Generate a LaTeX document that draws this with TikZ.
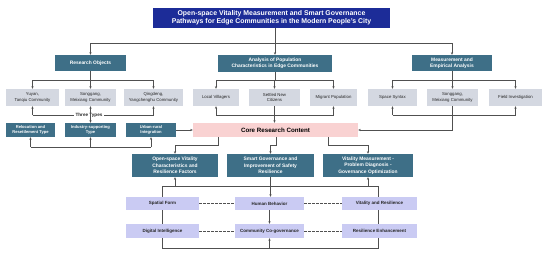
\documentclass[tikz,border=0pt]{standalone}
\usepackage{fontspec}
\setmainfont{Liberation Sans}
\usetikzlibrary{arrows.meta,backgrounds}
\definecolor{titleblue}{RGB}{28,44,152}
\definecolor{tealbox}{RGB}{62,111,135}
\definecolor{greybox}{RGB}{212,216,225}
\definecolor{pinkbox}{RGB}{249,210,210}
\definecolor{lavbox}{RGB}{202,203,243}
\definecolor{lncol}{RGB}{80,80,80}
\tikzset{
  bx/.style={inner sep=0pt, align=center, draw=none},
  titlebox/.style={bx, fill=titleblue, text=white, font=\fontsize{6.9}{8.1}\selectfont\bfseries},
  tealbig/.style={bx, fill=tealbox, text=white, font=\fontsize{4.9}{6.3}\selectfont\bfseries},
  tealsmall/.style={bx, fill=tealbox, text=white, font=\fontsize{4.1}{5.2}\selectfont\bfseries},
  greyb/.style={bx, fill=greybox, text=black!85, font=\fontsize{4.3}{5.5}\selectfont},
  coreb/.style={bx, fill=pinkbox, text=black, font=\fontsize{6.2}{7}\selectfont\bfseries},
  lavb/.style={bx, fill=lavbox, text=black!85, font=\fontsize{4.5}{5.5}\selectfont\bfseries},
  ln/.style={draw=lncol, line width=0.6pt},
  arr/.style={ln, -{Stealth[length=2.6pt,width=2.2pt]}},
  dsh/.style={ln, dash pattern=on 2.6pt off 1.4pt},
  sz/.style 2 args={minimum width=#1pt, minimum height=#2pt}
}
\begin{document}
\begin{tikzpicture}[x=1pt,y=-1pt]
\useasboundingbox (0,0) rectangle (550,255);
% level coordinates
\coordinate (yA) at (0,43);
\coordinate (yB) at (0,80);
\coordinate (yC) at (0,115);
\coordinate (yD) at (0,147);
\coordinate (yE) at (0,145);
\coordinate (yF) at (0,186);
\coordinate (yG) at (0,248);
% nodes
\node[titlebox, sz={237}{20}] (title) at (271.5,18) {Open-space Vitality Measurement and Smart Governance\\Pathways for Edge Communities in the Modern People’s City};
\node[tealbig, sz={71}{16}] (RO) at (90.5,63) {Research Objects};
\node[tealbig, sz={114}{17}] (AN) at (275,63.5) {Analysis of Population\\Characteristics in Edge Communities};
\node[tealbig, sz={80}{16}] (ME) at (452,63) {Measurement and\\Empirical Analysis};
\node[greyb, sz={53}{17}] (Yu) at (32.5,97.5) {Yuyan,\\Tanqiu Community};
\node[greyb, sz={51}{17}] (S1) at (90.5,97.5) {Songgang,\\Meixiang Community};
\node[greyb, sz={59}{17}] (Qi) at (153.5,97.5) {Qingdeng,\\Yangchenghu Community};
\node[greyb, sz={46}{17}] (Lo) at (216,97.5) {Local Villagers};
\node[greyb, sz={51}{17}] (Se) at (274.5,97.5) {Settled New\\Citizens};
\node[greyb, sz={47}{17}] (Mi) at (333.5,97.5) {Migrant Population};
\node[greyb, sz={49}{17}] (Sp) at (392.5,97.5) {Space Syntax};
\node[greyb, sz={51}{17}] (S2) at (452.5,97.5) {Songgang,\\Meixiang Community};
\node[greyb, sz={53}{17}] (Fi) at (515.5,97.5) {Field Investigation};
\node[tealsmall, sz={49}{14}] (Re) at (30.5,130) {Relocation and\\Resettlement Type};
\node[tealsmall, sz={51}{14}] (In) at (90.5,130) {Industry-supporting\\Type};
\node[tealsmall, sz={50}{14}] (Ur) at (151,130) {Urban-rural\\Integration};
\node[coreb, sz={165}{14}] (Core) at (275.5,130) {Core Research Content};
\node[tealbig, sz={86}{23}] (OS) at (175,165.5) {Open-space Vitality\\Characteristics and\\Resilience Factors};
\node[tealbig, sz={87}{23}] (SG) at (270.5,165.5) {Smart Governance and\\Improvement of Safety\\Resilience};
\node[tealbig, sz={90}{23}] (VM) at (368,165.5) {Vitality Measurement -\\Problem Diagnosis -\\Governance Optimization};
\node[lavb, sz={73}{13}] (SF) at (162.5,203.5) {Spatial Form};
\node[lavb, sz={69}{13}] (HB) at (269.5,203.5) {Human Behavior};
\node[lavb, sz={75}{13}] (VR) at (379.5,203.5) {Vitality and Resilience};
\node[lavb, sz={73}{14}] (DI) at (162.5,231) {Digital Intelligence};
\node[lavb, sz={69}{14}] (CC) at (269.5,231) {Community Co-governance};
\node[lavb, sz={75}{14}] (RE) at (379.5,231) {Resilience Enhancement};
\begin{scope}[on background layer]
% title to level 1
\draw[ln] (title.south -| AN.north) -- (AN.north |- yA);
\draw[ln] (RO.north |- yA) -- (ME.north |- yA);
\draw[arr] (RO.north |- yA) -- (RO.north);
\draw[arr] (AN.north |- yA) -- (AN.north);
\draw[arr] (ME.north |- yA) -- (ME.north);
% research objects
\draw[ln] (RO.south) -- (RO.south |- yB);
\draw[ln] (Yu.north |- yB) -- (Qi.north |- yB);
\draw[arr] (Yu.north |- yB) -- (Yu.north);
\draw[arr] (S1.north |- yB) -- (S1.north);
\draw[arr] (Qi.north |- yB) -- (Qi.north);
\draw[ln] (Yu.south |- yC) -- (Qi.south |- yC);
\draw[arr] (Yu.south |- yC) -- (Yu.south);
\draw[arr] (Qi.south |- yC) -- (Qi.south);
\end{scope}
\node[fill=white, inner xsep=1.5pt, inner ysep=0.5pt, font=\fontsize{4.6}{5}\selectfont\bfseries, text=black!85] (TT) at (89,115) {Three Types};
\draw[arr] (S1.south |- yC) -- (S1.south);
\draw[arr] (S1.south |- yC) -- (In.north);
\begin{scope}[on background layer]
\draw[ln] (Re.south |- yD) -- (Ur.south |- yD);
\draw[arr] (Re.south |- yD) -- (Re.south);
\draw[arr] (In.south |- yD) -- (In.south);
\draw[arr] (Ur.south |- yD) -- (Ur.south);
\draw[arr] (Ur.east) -- (Core.west);
% analysis
\draw[ln] (AN.south) -- (AN.south |- yB);
\draw[ln] (Lo.north |- yB) -- (Mi.north |- yB);
\draw[arr] (Lo.north |- yB) -- (Lo.north);
\draw[arr] (Se.north |- yB) -- (Se.north);
\draw[arr] (Mi.north |- yB) -- (Mi.north);
\draw[ln] (Lo.south |- yC) -- (Mi.south |- yC);
\draw[arr] (Lo.south |- yC) -- (Lo.south);
\draw[arr] (Mi.south |- yC) -- (Mi.south);
\draw[arr] (Se.south) -- (Se.south |- Core.north);
% measurement
\draw[ln] (ME.south) -- (ME.south |- yB);
\draw[ln] (Sp.north |- yB) -- (Fi.north |- yB);
\draw[arr] (Sp.north |- yB) -- (Sp.north);
\draw[arr] (S2.north |- yB) -- (S2.north);
\draw[arr] (Fi.north |- yB) -- (Fi.north);
\draw[ln] (Sp.south |- yC) -- (Fi.south |- yC);
\draw[arr] (Sp.south |- yC) -- (Sp.south);
\draw[arr] (Fi.south |- yC) -- (Fi.south);
\draw[arr] (S2.south) |- (Core.east);
% core to middle row
\draw[arr] ([xshift=-57.5pt]Core.south) -- ([xshift=-57.5pt]Core.south |- yE) -- (OS.north |- yE) -- (OS.north);
\draw[arr] ([xshift=0.5pt]Core.south) -- ([xshift=0.5pt]Core.south |- yE) -- (SG.north |- yE) -- (SG.north);
\draw[arr] ([xshift=52.5pt]Core.south) -- ([xshift=52.5pt]Core.south |- yE) -- (VM.north |- yE) -- (VM.north);
% bottom frame
\draw[ln] (SF.center |- yF) rectangle ([xshift=-1.5pt]VR.center |- yG);
\draw[arr] (OS.south |- yF) -- (OS.south);
\draw[arr] (VM.south |- yF) -- (VM.south);
\draw[arr] (SG.south) -- (SG.south |- HB.north);
\draw[arr] (HB.south) -- (CC.north);
\draw[arr] (CC.south |- yG) -- (CC.south);
\draw[dsh] (SF.east) -- (HB.west);
\draw[dsh] (HB.east) -- (VR.west);
\draw[dsh] (DI.east) -- (CC.west);
\draw[dsh] (CC.east) -- (RE.west);
\end{scope}
\end{tikzpicture}
\end{document}
